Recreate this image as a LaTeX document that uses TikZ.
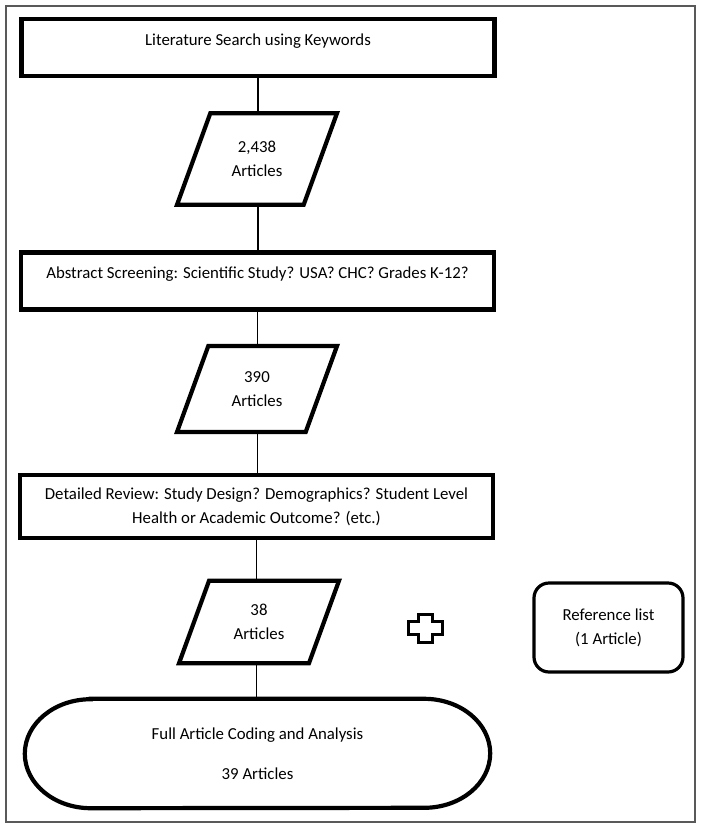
\documentclass[tikz,border=0pt]{standalone}
\usepackage{fontspec}
\setmainfont{Carlito}
\usepackage{tikz}
\usetikzlibrary{shapes,arrows,positioning,calc}

\begin{document}
\begin{tikzpicture}[x=1pt,y=-1pt,
    font=\fontsize{16.8}{24}\selectfont,
    box/.style={draw,line width=4.2pt,minimum width=473,minimum height=57,inner sep=0},
    io/.style={draw,line width=4.2pt,trapezium,trapezium left angle=70,trapezium right angle=110,
      trapezium stretches body,minimum width=160,inner xsep=0,inner ysep=#1,align=center},
    ln/.style={line width=1.4pt}]
    \useasboundingbox (0,0) rectangle (701,828);
    \draw[line width=1.5pt,black!65] (6,6) rectangle (695,822);

    \node[box,text depth=16pt] (lit) at (258,47.5) {Literature Search using Keywords};
    \node[io=28pt] (n1) at (257,159) {2,438\\Articles};
    \node[box,text depth=16pt] (abs) at (257.5,281) {Abstract Screening: Scientific Study? USA? CHC? Grades K-12?};
    \node[io=25.5pt] (n2) at (257,389) {390\\Articles};
    \node[box,minimum height=63,align=center] (det) at (256.5,506.5) {Detailed Review: Study Design? Demographics? Student Level\\Health or Academic Outcome? (etc.)};
    \node[io=23.5pt] (n3) at (259,622) {38\\Articles};
    \node[draw,line width=3.2pt,rounded corners=15,minimum width=149,minimum height=89,align=center] (ref) at (608.5,627.5) {Reference list\\(1 Article)};
    \node[minimum width=465,minimum height=109,align=center] (fin) at (257.5,753.5) {Full Article Coding and Analysis\\[16pt]39 Articles};
    \coordinate (plus) at (425,628);

    % terminal shape with flat ends
    \draw[line width=4.2pt] ([xshift=66]fin.north west) -- ([xshift=-66]fin.north east)
      arc[start angle=90,end angle=-90,x radius=66pt,y radius=54.5pt]
      -- ([xshift=66]fin.south west)
      arc[start angle=270,end angle=90,x radius=66pt,y radius=54.5pt] -- cycle;

    % plus sign
    \draw[line width=3pt,shift={(plus)}] (-7,-14) -- (7,-14) -- (7,-6.5) -- (17,-6.5) -- (17,6.5)
      -- (7,6.5) -- (7,14) -- (-7,14) -- (-7,6.5) -- (-17,6.5) -- (-17,-6.5) -- (-7,-6.5) -- cycle;

    \draw[ln] (lit.south) -- (lit.south |- n1.north);
    \draw[ln] (lit.south |- n1.south) -- (lit.south |- abs.north);
    \draw[ln] (abs.south) -- (abs.south |- n2.north);
    \draw[ln] (abs.south |- n2.south) -- (abs.south |- det.north);
    \draw[ln] (det.south) -- (det.south |- n3.north);
    \draw[ln] (det.south |- n3.south) -- (det.south |- fin.north);
  \end{tikzpicture}
\end{document}
